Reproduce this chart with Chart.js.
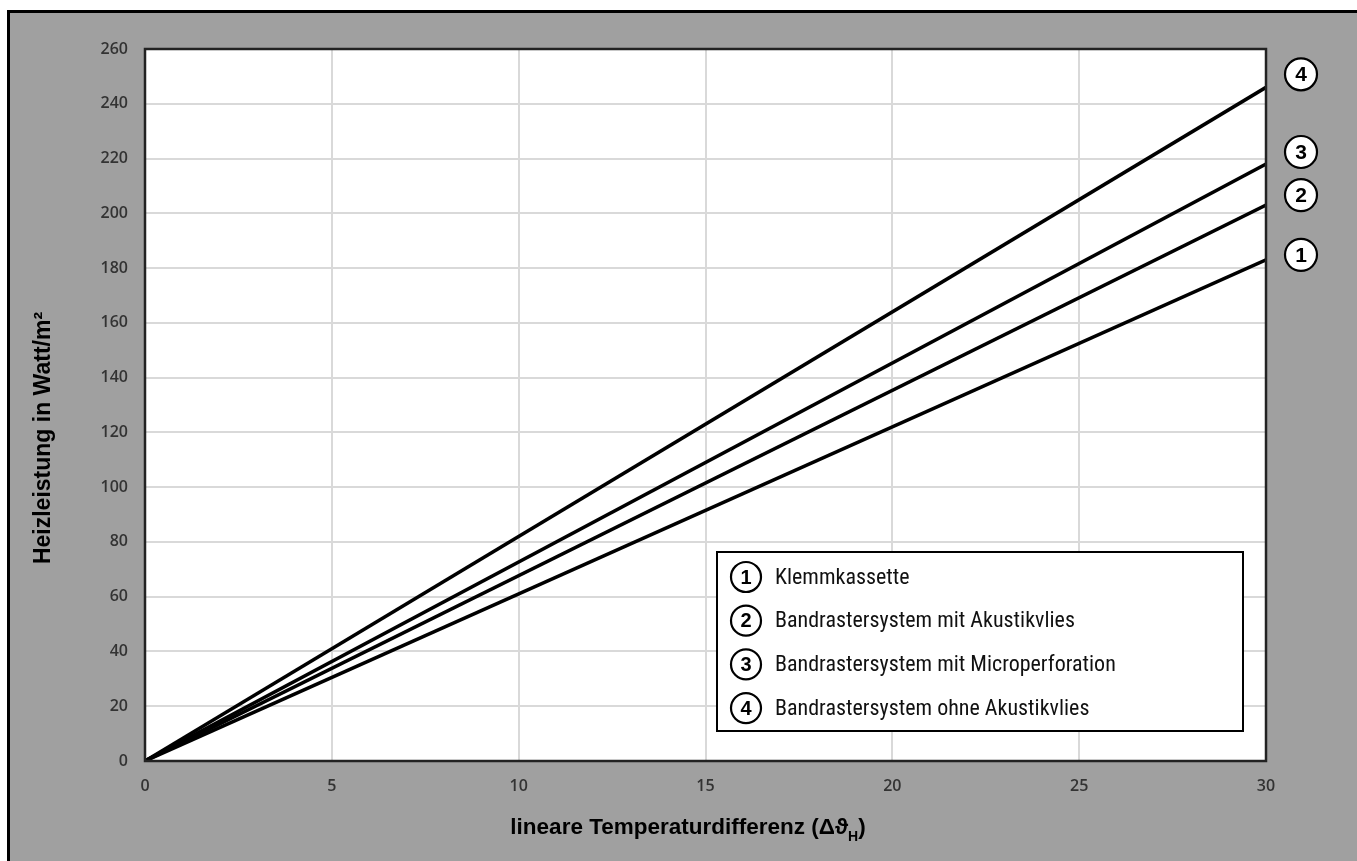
<!DOCTYPE html>
<html>
<head>
<meta charset="utf-8">
<script src="https://cdn.jsdelivr.net/npm/chart.js@4"></script>
<style>
html,body{margin:0;padding:0;background:#fff;}
#wrap{position:relative;width:1357px;height:861px;}
canvas{display:block;}
</style>
</head>
<body>
<div id="wrap"><canvas id="c" width="1357" height="861"></canvas></div>
<script>
// ---- data ----
const xValues = [0, 30];
const klemmkassette = [0, 183];
const akustikvlies = [0, 203];
const microperforation = [0, 218];
const ohneAkustikvlies = [0, 246];
const seriesNames = ['Klemmkassette', 'Bandrastersystem mit Akustikvlies', 'Bandrastersystem mit Microperforation', 'Bandrastersystem ohne Akustikvlies'];
const seriesNumbers = ['1', '2', '3', '4'];
const yTickMax = 260;
const yStep = 20;
const xTickMax = 30;
const xStep = 5;
const yTitle = 'Heizleistung in Watt/m²';
const xTitleMain = 'lineare Temperaturdifferenz (Δϑ';
const xTitleSub = 'H';
const xTitleEnd = ')';

const allSeries = [klemmkassette, akustikvlies, microperforation, ohneAkustikvlies];
const toPts = arr => arr.map((v, i) => ({x: xValues[i], y: v}));

// pixel offsets of the circled end markers relative to each line end
const endMarkerOffsets = [-5, -10, -12, -13];

function circledNumber(ctx, cx, cy, r, txt, fontSize) {
  ctx.save();
  ctx.beginPath();
  ctx.arc(cx, cy, r, 0, Math.PI * 2);
  ctx.fillStyle = '#fff';
  ctx.fill();
  ctx.lineWidth = 2.2;
  ctx.strokeStyle = '#000';
  ctx.stroke();
  ctx.fillStyle = '#000';
  ctx.font = 'bold ' + fontSize + 'px "Liberation Sans", Arial, sans-serif';
  ctx.textAlign = 'center';
  ctx.textBaseline = 'middle';
  ctx.fillText(txt, cx, cy + 1);
  ctx.restore();
}

const bgPlugin = {
  id: 'bg',
  beforeDraw(chart) {
    const ctx = chart.ctx;
    ctx.save();
    ctx.fillStyle = '#fff';
    ctx.fillRect(0, 0, chart.width, chart.height);
    ctx.fillStyle = '#a0a0a0';
    ctx.fillRect(8, 11, chart.width - 8, chart.height - 11);
    ctx.strokeStyle = '#000';
    ctx.lineWidth = 3;
    ctx.beginPath();
    ctx.moveTo(8.5, chart.height);
    ctx.lineTo(8.5, 11.5);
    ctx.lineTo(chart.width, 11.5);
    ctx.stroke();
    const a = chart.chartArea;
    ctx.fillStyle = '#fff';
    ctx.fillRect(a.left, a.top, a.right - a.left, a.bottom - a.top);
    ctx.restore();
  }
};

const decorPlugin = {
  id: 'decor',
  afterDraw(chart) {
    const ctx = chart.ctx;
    const a = chart.chartArea;
    const ys = chart.scales.y;
    ctx.save();
    // plot border
    ctx.strokeStyle = '#222';
    ctx.lineWidth = 2.5;
    ctx.strokeRect(a.left, a.top, a.right - a.left, a.bottom - a.top);

    // end markers
    allSeries.forEach((s, i) => {
      const yPix = ys.getPixelForValue(s[s.length - 1]) + endMarkerOffsets[i];
      circledNumber(ctx, a.right + 35, yPix, 16, seriesNumbers[i], 21);
    });

    // legend box
    const lx = 717, ly = 552, lw = 526, lh = 179;
    ctx.fillStyle = '#fff';
    ctx.fillRect(lx, ly, lw, lh);
    ctx.strokeStyle = '#000';
    ctx.lineWidth = 2;
    ctx.strokeRect(lx, ly, lw, lh);
    seriesNames.forEach((name, i) => {
      const cy = ly + 25 + i * 43.7;
      circledNumber(ctx, lx + 29, cy, 15, seriesNumbers[i], 20);
      ctx.fillStyle = '#111';
      ctx.font = '22px "Liberation Sans Narrow", "Roboto Condensed", "Arial Narrow", Roboto, sans-serif';
      ctx.textAlign = 'left';
      ctx.textBaseline = 'middle';
      ctx.fillText(name, lx + 58, cy + 1);
    });

    // x axis title with subscript
    ctx.fillStyle = '#000';
    const fMain = 'bold 22.5px "Liberation Sans", Arial, sans-serif';
    const fSub = 'bold 14px "Liberation Sans", Arial, sans-serif';
    ctx.font = fMain;
    const w1 = ctx.measureText(xTitleMain).width;
    const w3 = ctx.measureText(xTitleEnd).width;
    ctx.font = fSub;
    const w2 = ctx.measureText(xTitleSub).width;
    const total = w1 + w2 + w3;
    const tx = 688 - total / 2;
    const ty = a.bottom + 67;
    ctx.textAlign = 'left';
    ctx.textBaseline = 'middle';
    ctx.font = fMain;
    ctx.fillText(xTitleMain, tx, ty);
    ctx.font = fSub;
    ctx.fillText(xTitleSub, tx + w1, ty + 9);
    ctx.font = fMain;
    ctx.fillText(xTitleEnd, tx + w1 + w2, ty);

    // y axis title
    ctx.save();
    ctx.translate(44, 438);
    ctx.rotate(-Math.PI / 2);
    ctx.font = 'bold 23px "Liberation Sans", Arial, sans-serif';
    ctx.textAlign = 'center';
    ctx.textBaseline = 'middle';
    ctx.fillText(yTitle, 0, 0);
    ctx.restore();
    ctx.restore();
  }
};

const tickFont = {family: '"Open Sans", "DejaVu Sans", sans-serif', size: 16, weight: '600'};

new Chart(document.getElementById('c'), {
  type: 'line',
  data: {
    datasets: allSeries.map((s, i) => ({
      label: seriesNames[i],
      data: toPts(s),
      borderColor: '#000',
      borderWidth: 3.5,
      pointRadius: 0,
      fill: false,
      tension: 0
    }))
  },
  options: {
    responsive: false,
    animation: false,
    events: [],
    layout: {padding: {top: 49, right: 91, bottom: 0, left: 0}},
    plugins: {legend: {display: false}, tooltip: {enabled: false}},
    scales: {
      x: {
        type: 'linear',
        min: 0, max: xTickMax,
        ticks: {stepSize: xStep, color: '#333', font: tickFont, padding: 16, maxRotation: 0},
        grid: {color: '#d9d9d9', lineWidth: 2, drawTicks: false},
        border: {display: false},
        afterFit(scale) { scale.height = 100; }
      },
      y: {
        type: 'linear',
        min: 0, max: yTickMax,
        ticks: {stepSize: yStep, color: '#333', font: tickFont, padding: 17},
        grid: {color: '#d9d9d9', lineWidth: 2, drawTicks: false},
        border: {display: false},
        afterFit(scale) { scale.width = 145; }
      }
    }
  },
  plugins: [bgPlugin, decorPlugin]
});
</script>
</body>
</html>
